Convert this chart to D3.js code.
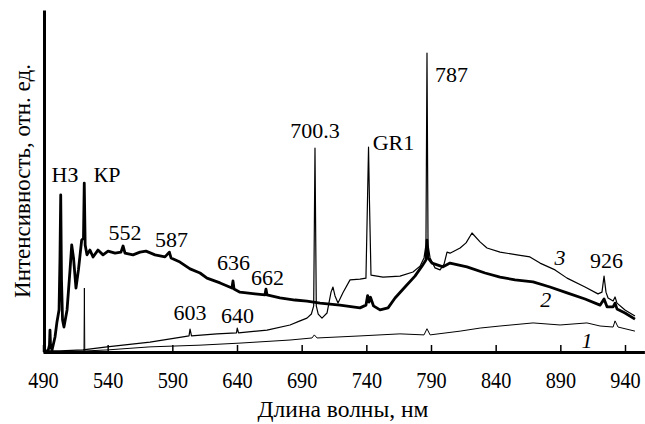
<!DOCTYPE html>
<html>
<head>
  <meta charset="utf-8">
  <style>
    html, body {
      margin: 0;
      padding: 0;
      background: #fff;
      width: 645px;
      height: 424px;
      overflow: hidden;
    }
    svg {
      display: block;
    }
    svg text {
      font-family: "Times New Roman", "Liberation Serif", Tinos, "DejaVu Serif", "Noto Serif", FreeSerif, serif !important;
    }
    .curve {
      fill: none;
      stroke: #000;
      stroke-linejoin: round;
    }
    .lbl {
      font-size: 22px;
      fill: #000;
    }
  </style>
</head>
<body>
  <svg width="645" height="424"></svg>

  <script src="https://d3js.org/d3.v7.min.js"></script>
  <script>
    // длина волны, нм -> интенсивность, отн. ед.
    const curve1 = [
      [490.8, 0], [520.9, 0.3], [521.7, 0.3], [522.0, 18.7], [522.3, 0.3],
      [539.5, 0.6], [572.7, 1.5], [611.4, 2.0], [642.3, 2.6], [681.0, 3.5],
      [698.0, 4.1], [699.8, 5.0], [701.9, 4.1], [735.1, 4.7], [766.0, 5.3],
      [784.6, 5.0], [786.9, 6.8], [789.3, 5.0], [812.5, 6.1], [828.0, 7.0],
      [843.4, 7.6], [868.9, 8.5], [889.8, 7.9], [910.6, 8.5], [920.7, 7.6],
      [930.8, 7.3], [932.3, 9.1], [934.6, 7.3], [947.7, 6.1]
    ];

    const curve2 = [
      [490.8, 0.3], [493.9, 0.3], [495.0, 2.0], [495.4, 6.4], [495.8, 2.0],
      [497.0, 0.6], [499.3, 4.4], [500.8, 8.8], [502.4, 12.3], [503.1, 26.9],
      [503.7, 45.9], [504.3, 21.1], [505.1, 9.4], [506.2, 7.3], [508.6, 12.3],
      [510.9, 24.0], [512.2, 31.3], [513.6, 27.5], [515.5, 18.7], [517.4, 24.0],
      [519.9, 32.7], [521.3, 33.3], [521.9, 49.4], [522.6, 31.3], [524.0, 28.4],
      [526.3, 29.8], [528.7, 27.8], [532.5, 29.8], [536.4, 28.4], [540.3, 29.5],
      [545.7, 28.9], [550.3, 29.2], [551.9, 31.0], [553.4, 28.9], [559.6, 28.4],
      [565.0, 29.2], [569.6, 29.5], [576.6, 28.4], [584.3, 27.8], [587.7, 29.2],
      [589.0, 27.5], [595.9, 26.3], [603.7, 24.3], [611.4, 23.1], [616.8, 21.6],
      [626.9, 20.2], [636.1, 18.7], [636.9, 20.8], [637.7, 18.4], [642.3, 17.5],
      [653.9, 17.0], [661.6, 16.7], [662.4, 18.4], [663.2, 16.7], [673.2, 15.8],
      [684.8, 15.2], [694.1, 14.9], [704.2, 14.3], [719.6, 13.7], [735.1, 12.9],
      [739.7, 13.7], [741.0, 16.5], [742.0, 14.6], [743.2, 16.0], [745.5, 13.5],
      [750.6, 12.3], [756.8, 12.9], [762.2, 15.8], [769.9, 19.0], [777.6, 22.2],
      [783.0, 25.1], [786.1, 26.9], [786.9, 32.7], [787.7, 27.5], [790.8, 26.0],
      [799.3, 24.9], [804.7, 26.0], [817.8, 24.9], [831.8, 23.1], [843.4, 21.9],
      [855.0, 21.1], [868.9, 20.5], [882.0, 19.0], [895.2, 17.3], [909.1, 15.5],
      [920.7, 13.7], [923.8, 15.5], [926.1, 13.2], [930.8, 13.2], [932.3, 14.3],
      [933.8, 12.6], [940.0, 11.4], [947.7, 9.6]
    ];

    const curve3 = [
      [490.8, 0.3], [503.1, 0.3], [520.9, 0.6], [539.5, 1.5], [572.7, 2.9],
      [598.2, 4.4], [602.9, 4.7], [603.7, 6.7], [604.8, 4.7], [624.5, 5.3],
      [639.6, 5.6], [640.2, 7.0], [641.2, 5.6], [663.2, 6.4], [681.0, 7.9],
      [688.7, 9.1], [694.1, 9.9], [697.5, 11.1], [699.3, 13.5], [700.3, 59.6],
      [701.3, 13.5], [702.8, 11.1], [705.7, 9.9], [709.6, 11.4], [712.7, 17.5],
      [714.2, 19.0], [715.8, 16.4], [718.1, 14.3], [721.9, 17.3], [727.4, 21.1],
      [735.1, 21.3], [739.7, 21.6], [740.9, 44.4], [741.7, 59.9], [742.4, 44.4],
      [743.6, 22.5], [752.9, 21.9], [766.0, 22.2], [776.1, 23.4], [781.5, 25.1],
      [784.6, 27.5], [786.1, 31.3], [786.9, 87.4], [787.7, 31.3], [789.3, 27.5],
      [793.1, 24.6], [797.0, 24.0], [800.1, 25.7], [802.4, 29.2], [804.7, 28.9],
      [812.5, 30.4], [817.1, 31.9], [821.7, 34.8], [827.9, 32.2], [833.3, 30.4],
      [843.4, 29.2], [856.5, 28.4], [866.5, 27.8], [874.3, 26.0], [885.9, 24.0],
      [895.2, 21.6], [909.1, 19.0], [919.1, 17.0], [922.2, 17.5], [923.8, 22.2],
      [925.3, 17.5], [926.9, 15.8], [930.8, 14.9], [932.3, 16.1], [933.8, 14.3],
      [940.0, 12.3], [947.7, 10.5]
    ];

    const xTicks = [490, 540, 590, 640, 690, 740, 790, 840, 890, 940];

    // подписи: текст, длина волны (центр), интенсивность (базовая линия)
    const peakLabels = [
      ["НЗ", 507.0, 49.7], ["КР", 539.5, 49.7], ["552", 553.4, 32.7],
      ["587", 589.4, 30.7], ["636", 637.3, 24.0], ["662", 663.6, 19.6],
      ["603", 603.7, 9.4], ["640", 640.4, 8.5], ["700.3", 700.3, 62.6],
      ["GR1", 761.0, 59.1], ["787", 805.9, 78.9], ["926", 925.7, 24.6]
    ];
    const curveLabels = [["3", 889.7, 25.4], ["2", 878.8, 13.2], ["1", 910.6, 1.2]];

    const svg = d3.select("svg");

    const x = d3.scaleLinear().domain([490, 955]).range([43, 644.4]);
    const y = d3.scaleLinear().domain([0, 100]).range([352, 10]);

    const line = d3.line().x(d => x(d[0])).y(d => y(d[1]));

    svg.append("path").datum(curve1).attr("class", "curve").attr("stroke-width", 1).attr("d", line);
    svg.append("path").datum(curve3).attr("class", "curve").attr("stroke-width", 1.2).attr("d", line);
    svg.append("path").datum(curve2).attr("class", "curve").attr("stroke-width", 2.8).attr("d", line);

    // оси
    const xAxis = svg.append("g")
      .attr("transform", `translate(0,${y(0)})`)
      .call(d3.axisBottom(x).tickValues(xTicks).tickSize(-7).tickSizeOuter(0));
    xAxis.select(".domain").attr("stroke-width", 3);
    xAxis.selectAll(".tick line").attr("stroke-width", 1.5);
    xAxis.selectAll(".tick text")
      .attr("y", 36).attr("dy", 0)
      .attr("font-size", 23)
      .attr("transform", "scale(0.88,1)");

    const yAxis = svg.append("g")
      .attr("transform", `translate(${x(490) + 1},0)`)
      .call(d3.axisLeft(y).tickValues([]).tickSizeOuter(0));
    yAxis.select(".domain").attr("stroke-width", 3);

    svg.append("text")
      .attr("class", "lbl")
      .attr("x", 343).attr("y", 417)
      .attr("text-anchor", "middle")
      .style("font-size", "23.5px")
      .text("Длина волны, нм");

    svg.append("text")
      .attr("class", "lbl")
      .attr("transform", "translate(30,181) rotate(-90)")
      .attr("text-anchor", "middle")
      .style("font-size", "23px")
      .text("Интенсивность, отн. ед.");

    svg.selectAll(".peak")
      .data(peakLabels)
      .join("text")
      .attr("class", "lbl peak")
      .attr("x", d => x(d[1]))
      .attr("y", d => y(d[2]))
      .attr("text-anchor", "middle")
      .text(d => d[0]);

    svg.selectAll(".cnum")
      .data(curveLabels)
      .join("text")
      .attr("class", "lbl cnum")
      .attr("x", d => x(d[1]))
      .attr("y", d => y(d[2]))
      .attr("text-anchor", "middle")
      .attr("font-style", "italic")
      .text(d => d[0]);
  </script>
</body>
</html>
